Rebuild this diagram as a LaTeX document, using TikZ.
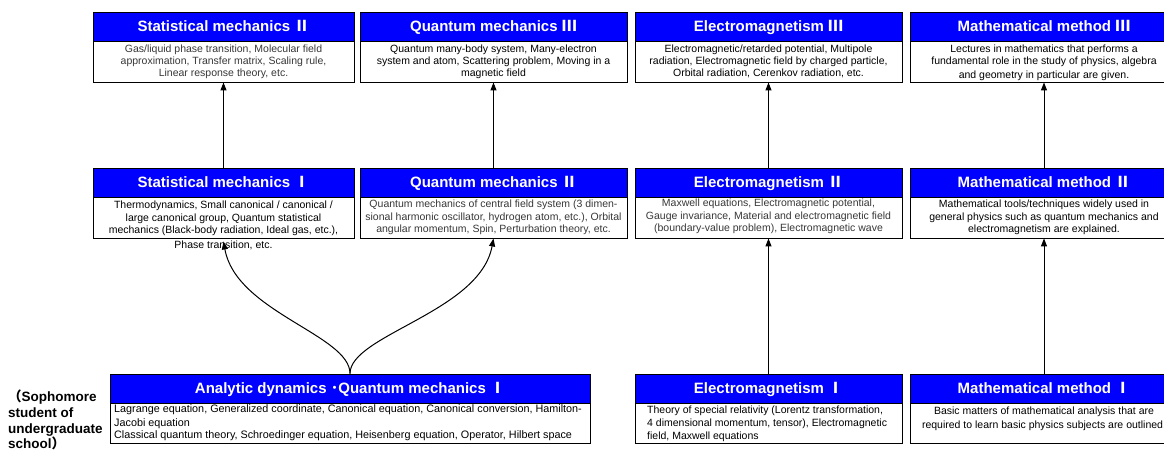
\documentclass[tikz,border=0pt]{standalone}
\usepackage{fontspec}
\setmainfont{Liberation Sans}
\newfontfamily\cjk{Noto Sans CJK JP}
\usetikzlibrary{arrows.meta,fit}

% one course: blue title bar above a white description frame
% #1 name, #2 left, #3 right, #4 top, #5 bar bottom, #6 frame bottom, #7 title
\newcommand{\coursebox}[7]{%
  \node[titlebar, fit={(#2,#4) (#3,#5)}] (#1h) {};
  \node[bodyframe, fit={(#2,#5) (#3,#6)}] (#1b) {};
  \node[titletext, anchor=base] (#1n) at ([yshift=-5.4pt]#1h.center) {#7};
}

\begin{document}
\begin{tikzpicture}[x=1pt,y=-1pt,
  titlebar/.style={draw=black, line width=0.8pt, fill=blue, inner sep=0pt},
  bodyframe/.style={draw=black, line width=0.9pt, fill=white, inner sep=0pt},
  titletext/.style={text=white, font=\fontsize{15}{18}\selectfont\bfseries, inner sep=0pt},
  desc/.style={font=\fontsize{10.5}{12.3}\selectfont, inner sep=0pt, align=center, anchor=north},
  lightdesc/.style={desc, text=black!78},
  yearlabel/.style={font=\fontsize{13.5}{15.6}\selectfont\bfseries, inner sep=0pt, align=left, anchor=north west},
  arr/.style={-{Triangle[length=8pt,width=6pt]}, line width=1pt},
]
\useasboundingbox (0,0) rectangle (1164,450);
\clip (0,0) rectangle (1164,450);

% third-level courses
\coursebox{smB}{93}{354}{12}{41}{82}{Statistical mechanics {\cjk Ⅱ}}
\coursebox{qmC}{360}{627}{12}{41}{82}{Quantum mechanics {\cjk Ⅲ}}
\coursebox{emC}{635}{902}{12}{41}{82}{Electromagnetism {\cjk Ⅲ}}
\coursebox{mmC}{910}{1178}{12}{41}{82}{Mathematical method {\cjk Ⅲ}}

% second-level courses
\coursebox{smA}{93}{354}{168}{197}{238}{Statistical mechanics {\cjk Ⅰ}}
\coursebox{qmB}{360}{627}{168}{197}{238}{Quantum mechanics {\cjk Ⅱ}}
\coursebox{emB}{635}{902}{168}{197}{238}{Electromagnetism {\cjk Ⅱ}}
\coursebox{mmB}{910}{1178}{168}{197}{238}{Mathematical method {\cjk Ⅱ}}

% first-level courses
\coursebox{ad}{110}{590}{374}{403}{443}{Analytic dynamics {\cjk ･}Quantum mechanics {\cjk Ⅰ}}
\coursebox{emA}{635}{902}{374}{403}{443}{Electromagnetism {\cjk Ⅰ}}
\coursebox{mmA}{910}{1178}{374}{403}{443}{Mathematical method {\cjk Ⅰ}}

% descriptions
\node[lightdesc] (smBt) at ([yshift=-3pt]smBh.south)
  {Gas/liquid phase transition, Molecular field\\approximation, Transfer matrix, Scaling rule,\\Linear response theory, etc.};
\node[desc] (qmCt) at ([yshift=-3pt]qmCh.south)
  {Quantum many-body system, Many-electron\\system and atom, Scattering problem, Moving in a\\magnetic field};
\node[desc] (emCt) at ([yshift=-3pt]emCh.south)
  {Electromagnetic/retarded potential, Multipole\\radiation, Electromagnetic field by charged particle,\\Orbital radiation, Cerenkov radiation, etc.};
\node[desc] (mmCt) at ([yshift=-3pt]mmCh.south)
  {Lectures in mathematics that performs a\\fundamental role in the study of physics, algebra\\[2pt]and geometry in particular are given.};

\node[desc] (smAt) at ([yshift=-3.5pt]smAh.south)
  {Thermodynamics, Small canonical / canonical /\\large canonical group, Quantum statistical\\mechanics (Black-body radiation, Ideal gas, etc.),\\[3pt]Phase transition, etc.};
\node[lightdesc] (qmBt) at ([yshift=-2.5pt]qmBh.south)
  {Quantum mechanics of central field system (3 dimen-\\sional harmonic oscillator, hydrogen atom, etc.), Orbital\\angular momentum, Spin, Perturbation theory, etc.};
\node[lightdesc] (emBt) at ([yshift=-1.5pt]emBh.south)
  {Maxwell equations, Electromagnetic potential,\\Gauge invariance, Material and electromagnetic field\\(boundary-value problem), Electromagnetic wave};
\node[desc] (mmBt) at ([yshift=-2.5pt]mmBh.south)
  {Mathematical tools/techniques widely used in\\general physics such as quantum mechanics and\\electromagnetism are explained.};

\node[desc, align=left, anchor=north west, font=\fontsize{10.8}{13.8}\selectfont] (adt) at (114,404.5)
  {Lagrange equation, Generalized coordinate, Canonical equation, Canonical conversion, Hamilton-\\Jacobi equation\\[-1.5pt]Classical quantum theory, Schroedinger equation, Heisenberg equation, Operator, Hilbert space};
\node[desc, align=left, anchor=north west, font=\fontsize{10.5}{12.8}\selectfont] (emAt) at (647,406)
  {Theory of special relativity (Lorentz transformation,\\4 dimensional momentum, tensor), Electromagnetic\\field, Maxwell equations};
\node[desc, font=\fontsize{10.5}{13.8}\selectfont] (mmAt) at ([yshift=-3.5pt]mmAh.south)
  {Basic matters of mathematical analysis that are\\required to learn basic physics subjects are outlined.};

% year of study
\node[yearlabel] (year) at (8,390)
  {{\cjk （}Sophomore\\student of\\undergraduate\\school{\cjk ）}};

% prerequisites
\draw[arr] (smAh.north) -- (smBb.south);
\draw[arr] (qmBh.north) -- (qmCb.south);
\draw[arr] (emBh.north) -- (emCb.south);
\draw[arr] (mmBh.north) -- (mmCb.south);
\draw[arr] (emAh.north) -- (emBb.south);
\draw[arr] (mmAh.north) -- (mmBb.south);
\draw[arr] (adh.north) .. controls (350,335) and (236,312) .. ([yshift=-3pt]smAb.south);
\draw[arr] (adh.north) .. controls (350,335) and (480,312) .. (qmBb.south);
\end{tikzpicture}
\end{document}
